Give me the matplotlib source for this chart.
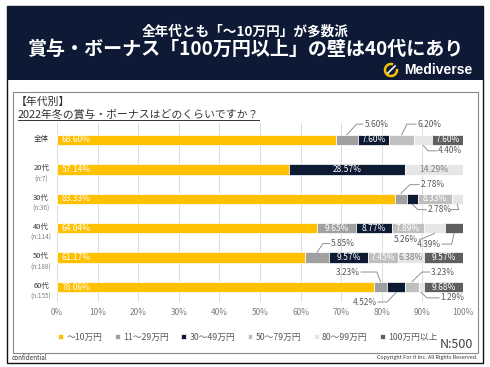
import matplotlib
matplotlib.use("Agg")
import matplotlib.pyplot as plt
from matplotlib.patches import Rectangle, Arc
from matplotlib.lines import Line2D

plt.rcParams['font.family'] = ['Noto Sans CJK JP', 'DejaVu Sans']

# data
rows = ['全体', '20代', '30代', '40代', '50代', '60代']
ns = ['', '(n:7)', '(n:36)', '(n:114)', '(n:188)', '(n:155)']
series = ['～10万円', '11～29万円', '30～49万円', '50～79万円', '80～99万円', '100万円以上']
s0 = [68.60, 57.14, 83.33, 64.04, 61.17, 78.06]
s1 = [5.60, 0, 2.78, 9.65, 5.85, 3.23]
s2 = [7.60, 28.57, 2.78, 8.77, 9.57, 4.52]
s3 = [6.20, 0, 8.33, 7.89, 7.45, 3.23]
s4 = [4.40, 14.29, 2.78, 5.26, 6.38, 1.29]
s5 = [7.60, 0, 0, 4.39, 9.57, 9.68]
vals = [s0, s1, s2, s3, s4, s5]
colors = ['#FFC000', '#a0a0a0', '#0c1a33', '#bfbfbf', '#e6e6e6', '#5f5f5f']
xticks = list(range(0, 101, 10))

W, H = 490, 367
def fx(x): return x / W
def fy(y): return 1 - y / H

fig = plt.figure(figsize=(4.9, 3.67), dpi=100)
fig.patch.set_facecolor('white')

# frame + header band
fig.add_artist(Rectangle((fx(7), fy(363)), fx(476), 357 / H, transform=fig.transFigure,
                         facecolor='white', edgecolor='#111111', lw=1.0, zorder=-3))
fig.add_artist(Rectangle((fx(7), fy(80)), fx(476), 74 / H, transform=fig.transFigure,
                         facecolor='#0e1a35', edgecolor='none', zorder=-2))
fig.add_artist(Rectangle((fx(13), fy(353)), fx(465), 261 / H, transform=fig.transFigure,
                         facecolor='white', edgecolor='#8a8a8a', lw=0.8, zorder=-2))

fig.text(fx(245), fy(32), '全年代とも「～10万円」が多数派', color='white', fontsize=9.8,
         fontweight='bold', ha='center', va='center')
fig.text(fx(245), fy(49), '賞与・ボーナス「100万円以上」の壁は40代にあり', color='white',
         fontsize=13.7, fontweight='bold', ha='center', va='center')
# logo
fig.add_artist(Arc((fx(391), fy(70)), 12 / W, 12 / H, theta1=75, theta2=15,
                   transform=fig.transFigure, color='#f2c200', lw=1.8))
fig.add_artist(Line2D([fx(388), fx(395)], [fy(73), fy(66)], transform=fig.transFigure,
                      color='white', lw=1.2))
fig.text(fx(404), fy(70), 'Mediverse', color='white', fontsize=10, fontweight='bold',
         family='Liberation Sans', ha='left', va='center')

# subtitle
fig.text(fx(16), fy(102), '【年代別】', color='#333333', fontsize=7.8, ha='left', va='center')
sub = fig.text(fx(18), fy(114), '2022年冬の賞与・ボーナスはどのくらいですか？', color='#333333',
               fontsize=7.8, ha='left', va='center')

ax = fig.add_axes([fx(57), fy(302), 406 / W, 179 / H])
ax.set_zorder(5)
h = 0.36
left = [0] * len(rows)
containers = []
for k, v in enumerate(vals):
    bc = ax.barh(range(len(rows)), v, left=left, height=h, color=colors[k],
                 edgecolor='white', lw=0.5, label=series[k], zorder=2)
    containers.append(bc)
    for i, val in enumerate(v):
        if val >= 6.3:
            c = '#7f7f7f' if k == 4 else 'white'
            if k == 0:
                ax.text(left[i] + 1.2, i, '%.2f%%' % val, color=c, fontsize=6.1,
                        ha='left', va='center', zorder=3)
            else:
                ax.text(left[i] + val / 2, i, '%.2f%%' % val, color=c, fontsize=6.1,
                        ha='center', va='center', zorder=3)
    left = [a + b for a, b in zip(left, v)]

# outside labels: (row, seg, side, elbow_x, text_x, dy, show text)
outs = [
    (0, 1, -1, 73.8, 75.4, -0.54, True),
    (0, 3, -1, 86.2, 88.4, -0.54, True),
    (0, 4, 1, 91.4, 93.6, 0.37, True),
    (2, 1, -1, 86.9, 89.2, -0.48, True),
    (2, 2, 1, 88.9, 91.0, 0.37, True),
    (2, 4, 1, 98.9, 96.9, 0.37, False),
    (3, 4, 1, 89.8, 89.2, 0.37, True),
    (3, 5, 1, 97.2, 94.9, 0.54, True),
    (4, 1, -1, 65.5, 67.2, -0.48, True),
    (5, 1, -1, 78.8, 74.9, -0.51, True),
    (5, 3, -1, 89.9, 91.8, -0.51, True),
    (5, 2, 1, 81.3, 79.0, 0.51, True),
    (5, 4, 1, 91.1, 94.1, 0.37, True),
]
for r, k, side, ex, tx, dy, show in outs:
    start = sum(vals[j][r] for j in range(k))
    cx = start + vals[k][r] / 2
    ax.plot([cx, ex, tx], [r + side * h / 2, r + dy, r + dy], color='#808080', lw=0.6,
            clip_on=False, zorder=3)
    if show:
        ha = 'left' if tx > ex else 'right'
        ax.text(tx + (0.3 if ha == 'left' else -0.3), r + dy, '%.2f%%' % vals[k][r],
                color='#595959', fontsize=6.0, ha=ha, va='center', zorder=3)

# row labels
for i, (name, n) in enumerate(zip(rows, ns)):
    ax.text(-3.9, i - 0.04, name, color='#333333', fontsize=5.4, ha='center', va='center',
            clip_on=False)
    if n:
        ax.text(-3.9, i + 0.33, n, color='#7f7f7f', fontsize=4.6, ha='center', va='center',
                clip_on=False)

ax.set_xlim(0, 100)
ax.set_ylim(5.51, -0.578)
ax.set_xticks(xticks)
ax.set_xticklabels(['%d%%' % t for t in xticks])
ax.set_yticks([])
ax.tick_params(axis='x', length=0, pad=4, labelsize=6, labelcolor='#7f7f7f')
ax.grid(axis='x', color='#dcdcdc', lw=0.7, zorder=0)
for s in ax.spines.values():
    s.set_visible(False)
ax.set_facecolor('none')

fig.legend(handles=containers, labels=series, loc='center', bbox_to_anchor=(fx(248), fy(337)),
           ncol=6, fontsize=6.3, frameon=False, handlelength=0.55, handleheight=0.55,
           handletextpad=0.4, columnspacing=1.4, labelcolor='#595959')

fig.text(fx(473), fy(345), 'N:500', color='#404040', fontsize=9, ha='right', va='center')
fig.text(fx(12), fy(358), 'confidential', color='#333333', fontsize=4.5, ha='left', va='center')
fig.text(fx(478), fy(358), 'Copyright For it Inc. All Rights Reserved.', color='#333333',
         fontsize=3.9, ha='right', va='center')

# underline subtitle
fig.canvas.draw()
bb = sub.get_window_extent().transformed(fig.transFigure.inverted())
fig.add_artist(Line2D([bb.x0, bb.x1], [fy(120), fy(120)], transform=fig.transFigure,
                      color='#333333', lw=0.7))

fig.savefig('out.png', dpi=100)
